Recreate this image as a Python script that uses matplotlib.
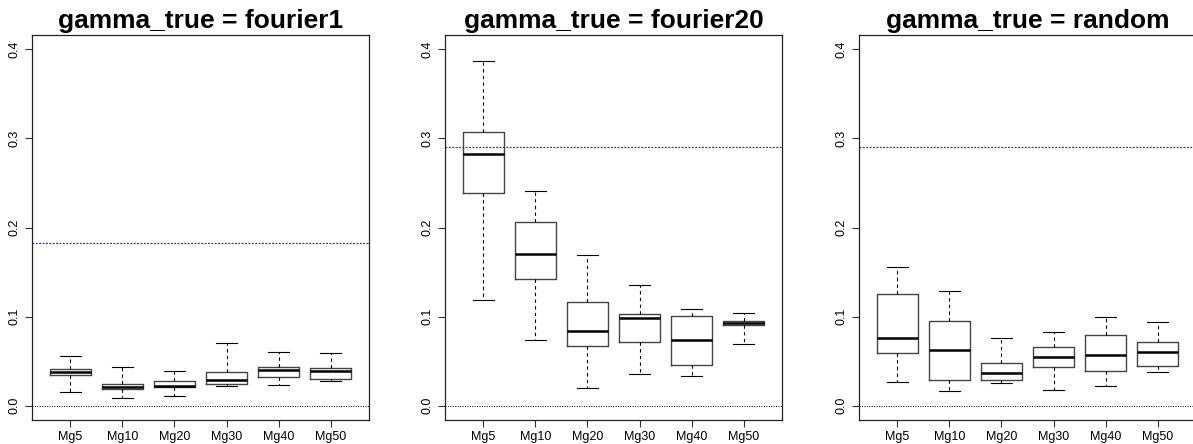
import matplotlib
matplotlib.use('Agg')
import matplotlib.pyplot as plt

# data (whisker low, Q1, median, Q3, whisker high)
labels = ['Mg5', 'Mg10', 'Mg20', 'Mg30', 'Mg40', 'Mg50']
titles = ['gamma_true = fourier1', 'gamma_true = fourier20', 'gamma_true = random']
ref_lines = [0.183, 0.2905, 0.2905]

fourier1 = [
    [0.0154, 0.0348, 0.0375, 0.0412, 0.0562],
    [0.0082, 0.0191, 0.0210, 0.0243, 0.0431],
    [0.0105, 0.0210, 0.0225, 0.0281, 0.0390],
    [0.0221, 0.0240, 0.0288, 0.0378, 0.0700],
    [0.0232, 0.0318, 0.0404, 0.0431, 0.0600],
    [0.0281, 0.0303, 0.0390, 0.0419, 0.0592],
]
fourier20 = [
    [0.1191, 0.2390, 0.2824, 0.3071, 0.3865],
    [0.0734, 0.1420, 0.1700, 0.2060, 0.2408],
    [0.0199, 0.0674, 0.0839, 0.1161, 0.1697],
    [0.0352, 0.0715, 0.0989, 0.1030, 0.1356],
    [0.0333, 0.0457, 0.0738, 0.1004, 0.1082],
    [0.0693, 0.0903, 0.0933, 0.0955, 0.1041],
]
random_g = [
    [0.0270, 0.0592, 0.0760, 0.1255, 0.1558],
    [0.0161, 0.0288, 0.0629, 0.0951, 0.1285],
    [0.0255, 0.0285, 0.0363, 0.0483, 0.0757],
    [0.0180, 0.0434, 0.0547, 0.0663, 0.0828],
    [0.0217, 0.0386, 0.0566, 0.0794, 0.1000],
    [0.0378, 0.0446, 0.0599, 0.0719, 0.0944],
]
panels = [fourier1, fourier20, random_g]

plt.rcParams['font.family'] = ['Liberation Sans', 'DejaVu Sans']

W, H = 1193, 444
fig = plt.figure(figsize=(W / 100, H / 100), dpi=100)
lefts = [32, 445, 859]

for i, data in enumerate(panels):
    ax = fig.add_axes([lefts[i] / W, 24 / H, 337 / W, 385 / H])
    stats = []
    for lab, (lo, q1, med, q3, hi) in zip(labels, data):
        stats.append({'label': lab, 'whislo': lo, 'q1': q1, 'med': med,
                      'q3': q3, 'whishi': hi, 'fliers': []})
    ax.bxp(stats, positions=range(1, 7), widths=0.8, showfliers=False,
           boxprops=dict(color='#444444', linewidth=1.0),
           medianprops=dict(color='black', linewidth=1.8),
           whiskerprops=dict(color='black', linewidth=0.8, linestyle=(0, (3, 3))),
           capprops=dict(color='black', linewidth=0.8),
           capwidths=0.4)
    ax.axhline(0, color='black', linewidth=0.7, linestyle=(0, (1, 1.5)))
    ax.axhline(ref_lines[i], color='#2020ff', linewidth=0.9, linestyle=(0, (1.5, 1.2)))
    ax.set_xlim(0.26, 6.74)
    ax.set_ylim(-0.016, 0.416)
    ax.set_yticks([0.0, 0.1, 0.2, 0.3, 0.4])
    ax.set_yticklabels(['0.0', '0.1', '0.2', '0.3', '0.4'], rotation=90, va='center')
    ax.tick_params(axis='both', labelsize=9, length=5, width=0.8, color='#333333')
    ax.tick_params(axis='y', pad=3)
    ax.tick_params(axis='x', pad=3)
    for s in ax.spines.values():
        s.set_linewidth(0.9)
        s.set_color('#222222')
    if i == 2:
        ax.spines['right'].set_visible(False)
    ax.set_title(titles[i], fontsize=19, fontweight='bold', pad=5)

fig.savefig('out.png', dpi=100)
